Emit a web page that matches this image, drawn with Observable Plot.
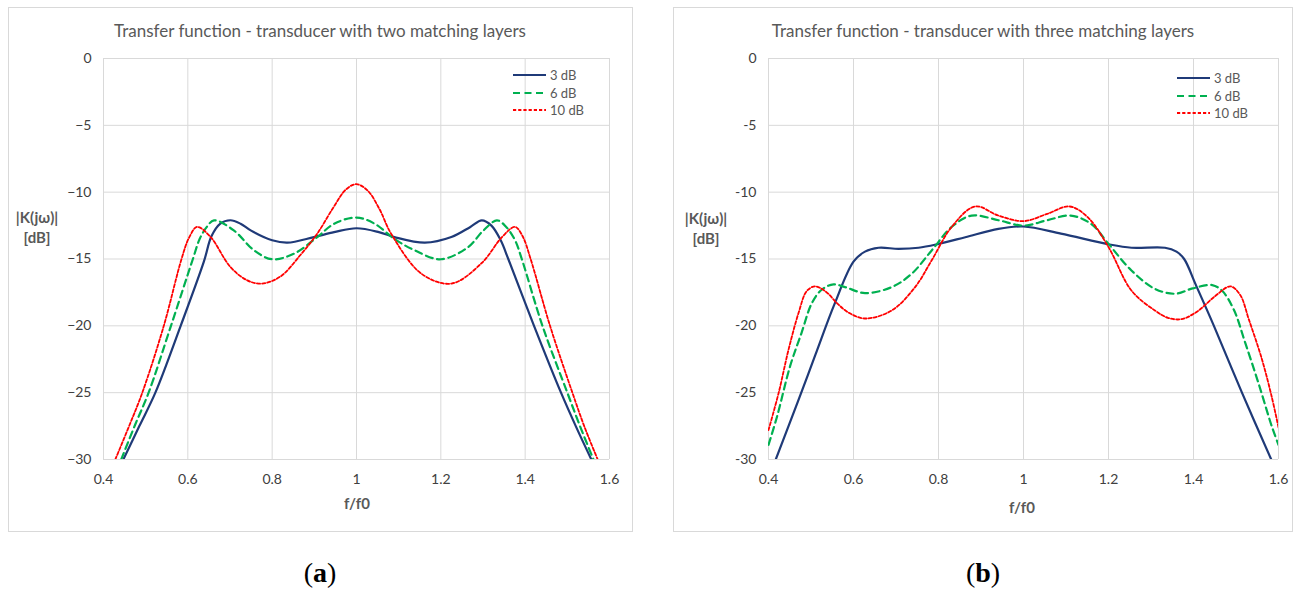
<!DOCTYPE html>
<html>
<head>
<meta charset="utf-8">
<script src="https://cdn.jsdelivr.net/npm/d3@7"></script>
<script src="https://cdn.jsdelivr.net/npm/@observablehq/plot@0.6"></script>
<style>
  html, body { margin: 0; padding: 0; background: #fff; }
  #root { position: relative; width: 1295px; height: 592px; overflow: hidden; font-family: Lato, "Open Sans", sans-serif; }
  .box { position: absolute; border: 1px solid #d9d9d9; box-sizing: border-box; }
  .t { position: absolute; white-space: nowrap; transform: translate(-50%, -50%); }
  .title { font-size: 17px; color: #595959; }
  .ylab { font-size: 15px; font-weight: bold; color: #595959; text-align: center; line-height: 20px; }
  .xlab { font-size: 15px; font-weight: bold; color: #595959; }
  .cap { font-family: "Liberation Serif", "DejaVu Serif", serif; font-size: 28px; color: #000; }
  .leg { position: absolute; font-size: 13px; color: #595959; }
  .leg .row { position: absolute; display: flex; align-items: center; white-space: nowrap; transform: translateY(-50%); }
  .leg svg { margin-right: 4px; }
</style>
</head>
<body>
<div id="root"></div>
<script>
// ---- data ----
const fTicks = [0.4, 0.6, 0.8, 1.0, 1.2, 1.4, 1.6];
const dbTicks = [0, -5, -10, -15, -20, -25, -30];
const seriesNames = ["3 dB", "6 dB", "10 dB"];
const seriesColors = ["#1f3a78", "#00b050", "#ff0000"];

// (a) two matching layers
const twoF_3dB = [0.447, 0.485, 0.523, 0.583, 0.638, 0.656, 0.677, 0.701, 0.725, 0.749, 0.8, 0.836, 0.899, 0.947, 1.0, 1.053, 1.09, 1.162, 1.225, 1.27, 1.297, 1.32, 1.342, 1.36, 1.421, 1.485, 1.52, 1.557];
const twoK_3dB = [-30, -27.5, -25, -20, -15.2, -13.3, -12.35, -12.1, -12.36, -12.86, -13.6, -13.78, -13.36, -12.99, -12.7, -12.99, -13.36, -13.78, -13.36, -12.6, -12.11, -12.5, -13.6, -15, -20, -25, -27.5, -30];
const twoF_6dB = [0.442, 0.475, 0.507, 0.56, 0.612, 0.628, 0.645, 0.662, 0.709, 0.757, 0.8, 0.852, 0.907, 0.947, 1.0, 1.043, 1.09, 1.138, 1.2, 1.265, 1.3, 1.333, 1.355, 1.376, 1.392, 1.441, 1.5, 1.53, 1.562];
const twoK_6dB = [-30, -27.4, -25, -20, -15, -13.5, -12.6, -12.11, -12.86, -14.35, -15.02, -14.6, -13.36, -12.36, -11.9, -12.36, -13.5, -14.35, -15.02, -14.1, -12.9, -12.11, -12.6, -13.6, -15, -20, -25, -27.5, -30];
const twoF_10dB = [0.428, 0.462, 0.492, 0.543, 0.585, 0.603, 0.622, 0.654, 0.701, 0.741, 0.776, 0.82, 0.867, 0.907, 0.946, 0.975, 1.0, 1.027, 1.055, 1.082, 1.154, 1.225, 1.297, 1.345, 1.376, 1.394, 1.412, 1.459, 1.512, 1.54, 1.572];
const twoK_10dB = [-30, -27.4, -25, -20, -15, -13.4, -12.6, -13.36, -15.6, -16.6, -16.84, -16.3, -14.7, -13.1, -11.1, -9.8, -9.4, -9.9, -11.3, -13.1, -16.1, -16.84, -15.3, -13.36, -12.6, -13.3, -14.9, -20, -25, -27.5, -30];

// (b) three matching layers
const threeF_3dB = [0.417, 0.47, 0.51, 0.555, 0.6, 0.627, 0.659, 0.706, 0.753, 0.8, 0.863, 0.941, 1.0, 1.088, 1.2, 1.254, 1.333, 1.36, 1.378, 1.405, 1.448, 1.514, 1.583];
const threeK_3dB = [-30, -25.6, -22.2, -18.4, -15.2, -14.45, -14.16, -14.24, -14.16, -13.87, -13.37, -12.74, -12.57, -13.1, -13.9, -14.16, -14.16, -14.45, -15, -16.9, -20, -25, -30];
const threeF_6dB = [0.4, 0.42, 0.451, 0.478, 0.502, 0.525, 0.553, 0.58, 0.627, 0.69, 0.737, 0.784, 0.831, 0.878, 0.941, 1.0, 1.056, 1.111, 1.159, 1.2, 1.254, 1.309, 1.357, 1.398, 1.444, 1.468, 1.495, 1.522, 1.553, 1.584, 1.6];
const threeK_6dB = [-28.9, -26.8, -23, -20.5, -18.3, -17.3, -16.9, -17.1, -17.55, -17.1, -16.1, -14.36, -12.6, -11.75, -12.1, -12.5, -12.1, -11.75, -12.37, -13.87, -15.86, -17.23, -17.6, -17.2, -16.95, -17.4, -18.8, -21.3, -24.3, -27.5, -28.9];
const threeF_10dB = [0.4, 0.424, 0.447, 0.471, 0.49, 0.51, 0.537, 0.561, 0.588, 0.627, 0.69, 0.745, 0.784, 0.831, 0.886, 0.941, 1.0, 1.056, 1.108, 1.151, 1.2, 1.254, 1.309, 1.34, 1.372, 1.41, 1.45, 1.487, 1.51, 1.53, 1.561, 1.584, 1.6];
const threeK_10dB = [-27.8, -25, -21.8, -19, -17.4, -17.05, -17.5, -18.3, -19.0, -19.45, -18.85, -17.1, -15.1, -12.6, -11.07, -11.75, -12.17, -11.62, -11.07, -11.87, -14.11, -17.36, -18.85, -19.4, -19.5, -18.9, -17.8, -17.05, -17.7, -19.5, -22.5, -25.3, -27.6];

const panelTitles = ["Transfer function - transducer with two matching layers", "Transfer function - transducer with three matching layers"];
const yLabelLines = ["|K(jω)|", "[dB]"];
const xLabel = "f/f0";
const captions = ["a", "b"];

// ---- helpers ----
const toRows = (fs, ks) => fs.map((f, i) => ({f, k: ks[i]}));
const styles = [
  {strokeWidth: 2.2, strokeDasharray: null},
  {strokeWidth: 2.2, strokeDasharray: "7,4.5"},
  {strokeWidth: 1.8, strokeDasharray: "3.2,2"}
];

function makePlot(seriesList, cfg) {
  const marks = [
    Plot.gridX(fTicks, {stroke: "#d9d9d9", strokeOpacity: 1}),
    Plot.gridY(dbTicks, {stroke: "#d9d9d9", strokeOpacity: 1}),
    Plot.axisX(fTicks, {tickSize: 0, tickPadding: 15, label: null, tickFormat: d => String(+d.toFixed(1))}),
    Plot.axisY(dbTicks, {tickSize: 0, tickPadding: 12, label: null, tickFormat: cfg.yFormat})
  ];
  seriesList.forEach((rows, i) => {
    marks.push(Plot.line(rows, {
      x: "f", y: "k", stroke: seriesColors[i],
      strokeWidth: styles[i].strokeWidth,
      strokeDasharray: styles[i].strokeDasharray,
      curve: "catmull-rom", clip: true
    }));
  });
  const svg = Plot.plot({
    width: cfg.width, height: 560,
    marginLeft: cfg.ml, marginRight: cfg.mr, marginTop: 58, marginBottom: 101,
    x: {domain: [0.4, 1.6]},
    y: {domain: [-30, 0]},
    style: {fontFamily: "Lato, 'Open Sans', sans-serif", fontSize: "14px", color: "#404040", background: "transparent", overflow: "visible"},
    marks
  });
  svg.style.position = "absolute";
  svg.style.left = cfg.left + "px";
  svg.style.top = "0px";
  svg.style.maxWidth = "none";
  return svg;
}

function addText(root, cls, html, x, y) {
  const d = document.createElement("div");
  d.className = "t " + cls;
  d.innerHTML = html;
  d.style.left = x + "px";
  d.style.top = y + "px";
  root.appendChild(d);
  return d;
}

function addLegend(root, lineX, textRowsY) {
  const leg = document.createElement("div");
  leg.className = "leg";
  leg.style.left = lineX + "px";
  leg.style.top = "0px";
  seriesNames.forEach((name, i) => {
    const row = document.createElement("div");
    row.className = "row";
    row.style.left = "0px";
    row.style.top = textRowsY[i] + "px";
    const dash = styles[i].strokeDasharray ? `stroke-dasharray="${styles[i].strokeDasharray}"` : "";
    row.innerHTML = `<svg width="33" height="6"><line x1="0" x2="33" y1="3" y2="3" stroke="${seriesColors[i]}" stroke-width="${styles[i].strokeWidth}" ${dash}/></svg><span>${name}</span>`;
    leg.appendChild(row);
  });
  root.appendChild(leg);
}

const root = document.getElementById("root");

// panel boxes
const boxes = [{l: 8, t: 7, w: 625, h: 525}, {l: 673, t: 7, w: 620, h: 525}];
boxes.forEach(b => {
  const d = document.createElement("div");
  d.className = "box";
  Object.assign(d.style, {left: b.l + "px", top: b.t + "px", width: b.w + "px", height: b.h + "px"});
  root.appendChild(d);
});

// panel (a)
root.appendChild(makePlot(
  [toRows(twoF_3dB, twoK_3dB), toRows(twoF_6dB, twoK_6dB), toRows(twoF_10dB, twoK_10dB)],
  {width: 650, ml: 103, mr: 41, left: 0, yFormat: d => (d < 0 ? "\u2212" + (-d) : String(d))}
));
// panel (b)
root.appendChild(makePlot(
  [toRows(threeF_3dB, threeK_3dB), toRows(threeF_6dB, threeK_6dB), toRows(threeF_10dB, threeK_10dB)],
  {width: 645, ml: 118, mr: 17, left: 650, yFormat: d => String(d)}
));

// texts
addText(root, "title", panelTitles[0], 320, 30);
addText(root, "title", panelTitles[1], 983, 30);
addText(root, "ylab", yLabelLines.join("<br>"), 37, 227);
addText(root, "ylab", yLabelLines.join("<br>"), 706, 228);
addText(root, "xlab", xLabel, 357, 503);
addText(root, "xlab", xLabel, 1022, 507);
addText(root, "cap", "(<b>" + captions[0] + "</b>)", 320, 573);
addText(root, "cap", "(<b>" + captions[1] + "</b>)", 983, 573);

addLegend(root, 513, [75, 93, 110]);
addLegend(root, 1177, [78, 96, 113]);
</script>
</body>
</html>
